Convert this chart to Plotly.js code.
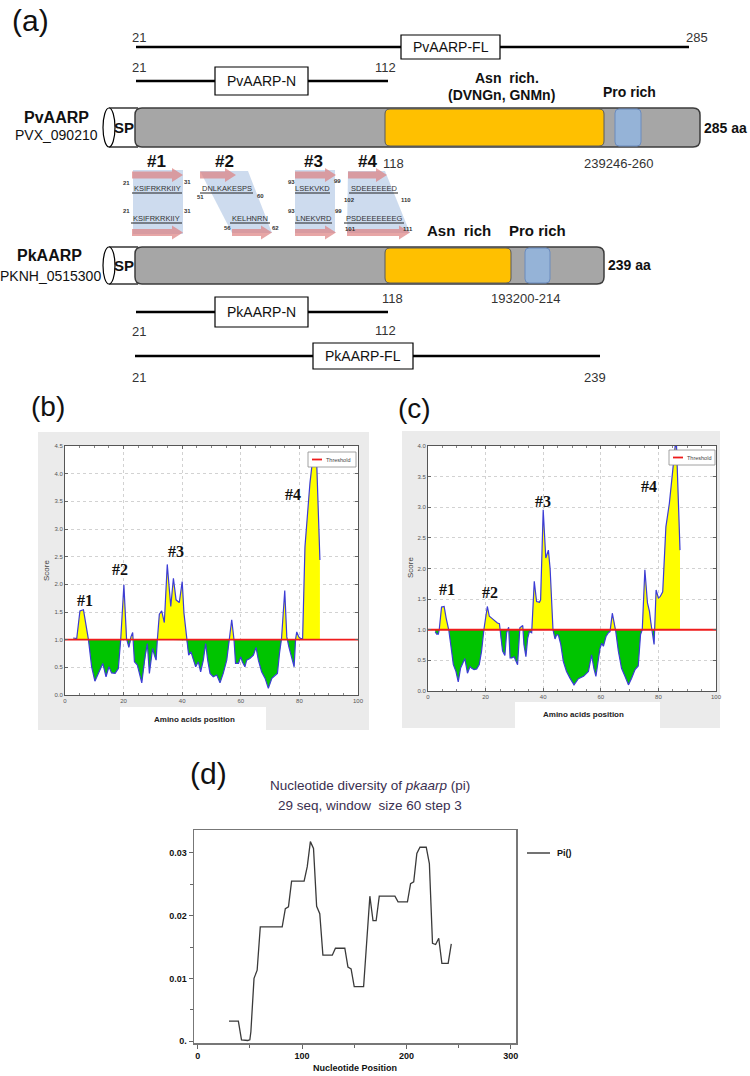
<!DOCTYPE html>
<html><head><meta charset="utf-8">
<script src="https://cdn.plot.ly/plotly-3.0.1.min.js"></script>
<style>html,body{margin:0;padding:0;background:#fff}#fig{width:750px;height:1076px}</style>
</head><body><div id="fig"></div>
<script>
// ================= DATA =================
// (b) PvAARP epitope score vs amino acid position
const pvPos = [2.8,4.0,5.1,6.3,8.0,9.1,10.2,11.4,12.9,14.0,15.0,15.9,17.1,18.2,19.0,20.1,21.0,21.8,22.5,23.1,23.7,24.7,26.2,27.3,28.1,28.8,29.9,30.5,31.1,31.5,32.2,33.0,33.9,34.9,36.1,37.0,37.9,39.0,40.0,40.6,41.5,42.2,43.0,43.8,44.6,45.5,46.3,47.2,48.0,48.7,49.5,50.6,51.8,52.9,54.0,55.2,56.1,56.9,57.7,58.2,59.2,60.0,60.5,61.4,62.0,63.1,64.3,65.2,66.0,67.1,68.3,69.4,70.6,71.7,72.5,73.2,73.9,75.0,75.7,76.4,77.4,78.2,78.7,79.1,79.8,80.4,81.1,81.9,83.6,84.5,85.9,87.0];
const pvScore = [1.03,1.02,1.52,1.54,1.00,0.51,0.25,0.39,0.57,0.33,0.51,0.40,0.39,0.48,0.99,1.99,1.02,0.86,1.05,1.13,0.60,0.54,0.22,0.69,0.93,0.39,0.84,0.72,0.63,0.99,1.46,1.52,1.31,2.36,1.60,2.11,1.72,1.67,2.05,1.48,0.99,0.72,0.78,0.63,0.51,0.60,0.42,0.63,0.93,0.63,0.39,0.33,0.36,0.22,0.39,0.63,0.99,1.36,0.99,0.57,0.57,0.69,0.60,0.51,0.63,0.66,0.72,0.86,0.63,0.42,0.30,0.12,0.30,0.36,0.39,0.75,1.02,1.89,1.05,0.87,0.69,0.51,1.01,1.14,1.05,1.02,1.02,2.68,3.83,4.25,4.20,2.44];
// (c) PkAARP epitope score vs amino acid position
const pkPos = [2.5,3.0,3.6,3.9,4.7,5.6,6.3,7.2,8.2,8.8,9.7,10.5,11.3,12.3,12.8,13.7,14.6,15.2,16.0,16.9,17.8,18.6,19.4,20.6,21.3,22.1,22.9,23.6,24.1,24.8,25.3,25.9,26.7,27.3,28.0,28.5,29.1,29.9,30.6,31.1,31.9,32.9,33.3,34.0,34.6,35.2,36.0,36.9,37.7,38.7,39.1,39.4,40.0,40.9,41.8,42.4,43.0,43.4,44.1,44.7,45.3,46.1,47.0,48.1,49.3,50.7,52.2,54.0,55.7,56.8,57.6,58.3,59.7,60.3,60.9,61.8,62.6,63.2,64.0,64.6,65.2,66.1,67.2,68.4,69.6,70.7,71.9,73.0,73.8,74.4,75.3,76.2,76.9,77.4,78.0,78.5,79.2,80.0,80.6,81.5,82.6,83.8,85.0,85.8,86.3,87.5];
const pkScore = [0.97,0.93,0.93,1.00,1.37,1.38,1.19,1.00,0.65,0.43,0.32,0.15,0.37,0.48,0.53,0.29,0.40,0.37,0.35,0.36,0.43,0.65,1.00,1.38,1.22,1.19,1.16,1.14,1.11,1.10,0.86,0.65,0.58,0.95,1.04,0.54,0.54,0.56,0.48,0.43,1.03,1.07,0.76,0.56,0.86,0.97,0.95,1.79,1.46,1.45,1.49,1.87,2.96,2.17,2.30,2.00,1.43,1.00,0.85,0.92,0.91,0.76,0.48,0.32,0.21,0.10,0.20,0.24,0.32,0.59,0.37,0.24,0.69,0.78,0.73,0.89,0.95,0.97,1.27,1.11,0.97,0.65,0.37,0.24,0.10,0.21,0.35,0.41,0.92,1.00,1.98,1.44,1.30,1.11,0.95,0.76,1.65,1.52,1.54,1.62,2.68,3.06,3.61,3.99,3.99,2.30];
const threshold = 1.0;
// (d) nucleotide diversity (pi) of pkaarp
const ntPos = [30,39,42,48,50,51,54,57,60,81,84,87,90,102,105,108,111,114,117,120,129,132,141,144,147,150,159,162,165,168,171,174,189,192,201,204,207,210,213,219,222,225,228,231,234,240,243];
const ntPi = [0.0032,0.0032,0.0002,0.0001,0.0002,0.0015,0.0100,0.0113,0.0182,0.0182,0.0211,0.0214,0.0255,0.0255,0.0278,0.0318,0.0307,0.0215,0.0203,0.0137,0.0137,0.0148,0.0148,0.0118,0.0115,0.0087,0.0087,0.0167,0.0231,0.0192,0.0192,0.0231,0.0231,0.0222,0.0222,0.0251,0.0254,0.0299,0.0309,0.0309,0.0283,0.0156,0.0154,0.0164,0.0124,0.0124,0.0155];
const ntTicks = [0, 0.01, 0.02, 0.03];
const ntTickText = ['0.', '0.01', '0.02', '0.03'];
// (a) schematic texts
const epitopeIds = ['#1','#2','#3','#4'];
const pvEpiSeq = ['KSIFRKRKIIY','DNLKAKESPS','LSEKVKD','SDEEEEEED'];
const pvEpiStart = ['21','51','93','102'];
const pvEpiEnd = ['31','60','99','110'];
const pkEpiSeq = ['KSIFRKRKIIY','KELHNRN','LNEKVRD','PSDEEEEEEEG'];
const pkEpiStart = ['21','56','93','101'];
const pkEpiEnd = ['31','62','99','111'];

// ================= LAYOUT HELPERS =================
const W = 750, H = 1076;
const fam = 'Liberation Sans, Arial, sans-serif';
const serif = 'Liberation Serif, Times New Roman, serif';
const shapes = [], ann = [];
const P = x => x / W, Q = y => 1 - y / H;

function ln(x0,y0,x1,y1,color,width){shapes.push({type:'line',xref:'x',yref:'y',x0,y0,x1,y1,line:{color,width}});}
function rc(x0,y0,x1,y1,fill,lc,lw){shapes.push({type:'rect',xref:'x',yref:'y',x0,y0,x1,y1,fillcolor:fill,line:{color:lc||fill,width:lw||0}});}
function pth(d,fill,lc,lw){shapes.push({type:'path',xref:'x',yref:'y',path:d,fillcolor:fill,line:{color:lc||'rgba(0,0,0,0)',width:lw||0}});}
function circ(x0,y0,x1,y1,fill,lc,lw){shapes.push({type:'circle',xref:'x',yref:'y',x0,y0,x1,y1,fillcolor:fill,line:{color:lc,width:lw}});}
function tx(x,y,t,size,o){o=o||{};ann.push({xref:'x',yref:'y',x,y,text:t,showarrow:false,
  font:{family:o.family||fam,size,color:o.color||'#111',weight:o.bold?'bold':'normal'},
  xanchor:o.anchor||'center',yanchor:'middle',textangle:o.angle||0});}
function rr(x0,y0,x1,y1,r){
  return `M${x0+r},${y0} L${x1-r},${y0} Q${x1},${y0} ${x1},${y0+r} L${x1},${y1-r} Q${x1},${y1} ${x1-r},${y1} L${x0+r},${y1} Q${x0},${y1} ${x0},${y1-r} L${x0},${y0+r} Q${x0},${y0} ${x0+r},${y0} Z`;
}
function arrow(x0,x1,yc){
  const h=3.5,Hh=7,hl=11,xh=x1-hl;
  pth(`M${x0},${yc-h} L${xh},${yc-h} L${xh},${yc-Hh} L${x1},${yc} L${xh},${yc+Hh} L${xh},${yc+h} L${x0},${yc+h} Z`,'rgba(221,128,128,0.7)');
}
function labelBox(x0,y0,x1,y1,t){
  rc(x0,y0,x1,y1,'#ffffff','#000000',1.2);
  tx((x0+x1)/2,(y0+y1)/2,t,14);
}
function protein(y0,y1,xEnd,orange,blue){
  rc(109,y0,138,y1,'#ffffff');
  ln(109,y0,138,y0,'#000',1.2); ln(109,y1,138,y1,'#000',1.2);
  circ(103,y0,115,y1,'#ffffff','#000',1.2);
  pth(rr(135,y0,xEnd,y1,7),'#a6a6a6','#3c3c3c',1.5);
  pth(rr(orange[0],y0+1,orange[1],y1-1,5),'#ffc000','#5a5a5a',1);
  pth(rr(blue[0],y0+1,blue[1],y1-1,4),'#95b3d7','#6b8bbd',1);
  tx(124,(y0+y1)/2,'SP',15,{bold:true});
}

// ================= PANEL (a) =================
tx(30,20,'(a)',30);
// PvAARP constructs
ln(136,47,689,47,'#000',2.5); labelBox(401,35,500,59,'PvAARP-FL');
tx(139,37,'21',13,{color:'#333'}); tx(697,37,'285',13,{color:'#333'});
ln(136,81,388,81,'#000',2.5); labelBox(215,67,308,95,'PvAARP-N');
tx(139,67,'21',13,{color:'#333'}); tx(385,67,'112',13,{color:'#333'});
tx(507,78,'Asn  rich.',14,{bold:true}); tx(501,95,'(DVNGn, GNMn)',14,{bold:true});
tx(629,92,'Pro rich',14,{bold:true});
protein(108,147,700,[385,604],[615,641]);
tx(56,117,'PvAARP',16,{bold:true}); tx(56,135,'PVX_090210',14);
tx(725,128,'285 aa',14,{bold:true});
tx(393,163,'118',13,{color:'#333'}); tx(618,163,'239246-260',13,{color:'#333'});

// epitope comparison
const epiTopX = [[132,183],[200,236],[295,336],[348,387]];
const epiBotX = [[132,183],[232,272],[295,336],[347,410]];
const epiPanel = [
  [[133,170],[183,170],[183,234],[133,234]],
  [[200,171],[248,171],[272,233],[232,233]],
  [[295,170],[335,170],[335,233],[295,233]],
  [[348,171],[385,171],[410,233],[347,233]]
];
epiPanel.forEach(pg=>pth('M'+pg.map(p=>p.join(',')).join(' L')+' Z','rgba(188,207,232,0.75)'));
epiTopX.forEach(a=>arrow(a[0],a[1],175));
epiBotX.forEach(a=>arrow(a[0],a[1],232.5));
const idX = [156,224,313,367];
epitopeIds.forEach((t,i)=>tx(idX[i],161,t,17,{bold:true}));
const pvSeqX = [[132,182],[200,253],[295,330],[349,398]];
const pkSeqX = [[131,182],[230,270],[295,332],[344,404]];
const pvNumPos = [[[126,183],[187,182]],[[200,197],[260,196]],[[291,182],[337,181]],[[349,200],[406,200]]];
const pkNumPos = [[[126,211],[187,211]],[[227,228],[275,228]],[[291,211],[338,211]],[[350,229],[408,229]]];
pvEpiSeq.forEach((s,i)=>{
  const [a,b]=pvSeqX[i]; tx((a+b)/2,188,s,7.5,{color:'#333'}); ln(a,193,b,193,'#222',1.2);
  tx(pvNumPos[i][0][0],pvNumPos[i][0][1],pvEpiStart[i],6,{bold:true,color:'#333'});
  tx(pvNumPos[i][1][0],pvNumPos[i][1][1],pvEpiEnd[i],6,{bold:true,color:'#333'});
});
pkEpiSeq.forEach((s,i)=>{
  const [a,b]=pkSeqX[i]; tx((a+b)/2,218,s,7.5,{color:'#333'}); ln(a,223,b,223,'#222',1.2);
  tx(pkNumPos[i][0][0],pkNumPos[i][0][1],pkEpiStart[i],6,{bold:true,color:'#333'});
  tx(pkNumPos[i][1][0],pkNumPos[i][1][1],pkEpiEnd[i],6,{bold:true,color:'#333'});
});

// PkAARP
tx(459,230,'Asn  rich',15,{bold:true}); tx(537,230,'Pro rich',15,{bold:true});
protein(247,284,604,[385,511],[525,550]);
tx(49,255,'PkAARP',16,{bold:true}); tx(50,276,'PKNH_0515300',14);
tx(629,265,'239 aa',14,{bold:true});
tx(392,298,'118',13,{color:'#333'}); tx(525,298,'193200-214',13,{color:'#333'});
ln(136,312,388,312,'#000',2.5); labelBox(215,297,308,327,'PkAARP-N');
tx(139,331,'21',13,{color:'#333'}); tx(385,330,'112',13,{color:'#333'});
ln(135,356,600,356,'#000',2.5); labelBox(313,343,413,369,'PkAARP-FL');
tx(139,377,'21',13,{color:'#333'}); tx(595,377,'239',13,{color:'#333'});

// ================= PANELS (b), (c) =================
function paperRect(x0,y0,x1,y1,fill){shapes.push({type:'rect',xref:'paper',yref:'paper',layer:'below',x0:P(x0),x1:P(x1),y0:Q(y1),y1:Q(y0),fillcolor:fill,line:{width:0}});}
paperRect(38,432,369,730,'#ebebeb'); paperRect(65,446,358,695,'#ffffff'); paperRect(120,707,266,730,'#ffffff');
paperRect(402,431,720,728,'#ebebeb'); paperRect(428,446,716,691,'#ffffff'); paperRect(515,702,660,728,'#ffffff');

function splitAt(xs,ys,t){
  const X=[],Y=[];
  for(let i=0;i<xs.length;i++){
    if(i>0){const a=ys[i-1]-t,b=ys[i]-t; if(a*b<0){const f=a/(a-b); X.push(xs[i-1]+f*(xs[i]-xs[i-1])); Y.push(t);}}
    X.push(xs[i]); Y.push(ys[i]);
  }
  return {X,Y};
}
const traces = [{x:[0],y:[0],xaxis:'x',yaxis:'y',mode:'markers',marker:{opacity:0},hoverinfo:'skip',showlegend:false}];
function scoreTraces(xs,ys,xa,ya){
  const s=splitAt(xs,ys,threshold);
  const base={x:s.X,y:s.X.map(()=>threshold),xaxis:xa,yaxis:ya,mode:'lines',line:{width:0},hoverinfo:'skip',showlegend:false};
  traces.push(base);
  traces.push({x:s.X,y:s.Y.map(v=>Math.max(v,threshold)),xaxis:xa,yaxis:ya,mode:'lines',line:{width:0},fill:'tonexty',fillcolor:'#ffff00',showlegend:false,hoverinfo:'skip'});
  traces.push(Object.assign({},base));
  traces.push({x:s.X,y:s.Y.map(v=>Math.min(v,threshold)),xaxis:xa,yaxis:ya,mode:'lines',line:{width:0},fill:'tonexty',fillcolor:'#00c400',showlegend:false,hoverinfo:'skip'});
  traces.push({x:xs,y:ys,xaxis:xa,yaxis:ya,mode:'lines',line:{color:'#3c3cd6',width:1.2},showlegend:false});
  traces.push({x:[0,100],y:[threshold,threshold],xaxis:xa,yaxis:ya,mode:'lines',line:{color:'#ee1c1c',width:1.8},name:'Threshold',showlegend:false});
}
scoreTraces(pvPos,pvScore,'x2','y2');
scoreTraces(pkPos,pkScore,'x3','y3');
traces.push({x:ntPos,y:ntPi,xaxis:'x4',yaxis:'y4',mode:'lines',line:{color:'#3a3a3a',width:1.3},name:'Pi()',showlegend:false});

function scoreX(d,anchor){return {domain:d,anchor,range:[0,100],tickvals:[0,20,40,60,80,100],tickfont:{size:6,color:'#555',family:fam},
  showgrid:true,gridcolor:'#d2d2d2',griddash:'dot',gridwidth:1,showline:true,linecolor:'#555',linewidth:1,mirror:'ticks',
  ticks:'inside',ticklen:3,tickcolor:'#666',minor:{dtick:5,ticklen:2,ticks:'inside',tickcolor:'#888'},zeroline:false,fixedrange:true};}
function scoreY(d,anchor,ymax){return {domain:d,anchor,range:[0,ymax],dtick:0.5,tickformat:'.1f',tickfont:{size:6,color:'#555',family:fam},
  showgrid:true,gridcolor:'#d2d2d2',griddash:'dot',gridwidth:1,showline:true,linecolor:'#555',linewidth:1,mirror:'ticks',
  ticks:'inside',ticklen:3,tickcolor:'#666',zeroline:false,fixedrange:true};}

// legends "Threshold"
function thrLegend(x0,y0,x1,y1){
  rc(x0,y0,x1,y1,'#ffffff','#8a8a8a',0.8);
  ln(x0+4,(y0+y1)/2,x0+14,(y0+y1)/2,'#ee1c1c',1.8);
  tx(x0+16,(y0+y1)/2,'Threshold',5.5,{anchor:'left',color:'#444'});
}
thrLegend(308,452,356,467);
thrLegend(669,450,715,465);
tx(48,406,'(b)',28); tx(414,408,'(c)',28);
tx(46,571,'Score',8,{angle:-90,color:'#444'}); tx(410,568,'Score',8,{angle:-90,color:'#444'});
tx(194,719,'Amino acids position',8,{bold:true,color:'#222'}); tx(583,714,'Amino acids position',8,{bold:true,color:'#222'});
[[85,600,'#1'],[120,569,'#2'],[176,551,'#3'],[293,494,'#4'],[447,589,'#1'],[490,592,'#2'],[543,501,'#3'],[649,486,'#4']]
  .forEach(a=>tx(a[0],a[1],a[2],16,{bold:true,family:serif}));

// ================= PANEL (d) =================
tx(208,773,'(d)',30);
tx(370,785,'Nucleotide diversity of <i>pkaarp</i> (pi)',13.5,{color:'#3a2f50'});
tx(370,805,'29 seq, window  size 60 step 3',13.5,{color:'#3a2f50'});
ln(527,853,550,853,'#444',1.5); tx(555,853,'Pi()',9,{bold:true,anchor:'left'});
tx(355,1068,'Nucleotide Position',9,{bold:true});

const layout = {
  width:W,height:H,margin:{l:0,r:0,t:0,b:0},paper_bgcolor:'#ffffff',plot_bgcolor:'rgba(0,0,0,0)',showlegend:false,
  xaxis:{domain:[0,1],range:[0,W],visible:false,fixedrange:true},
  yaxis:{domain:[0,1],range:[H,0],visible:false,fixedrange:true},
  xaxis2:scoreX([P(65),P(358)],'y2'), yaxis2:scoreY([Q(695),Q(446)],'x2',4.5),
  xaxis3:scoreX([P(428),P(716)],'y3'), yaxis3:scoreY([Q(691),Q(446)],'x3',4.0),
  xaxis4:{domain:[P(194),P(516)],anchor:'y4',range:[-3.5,305],tickvals:[0,100,200,300],ticks:'outside',ticklen:4,tickcolor:'#666',
    minor:{dtick:50,ticklen:3,ticks:'outside',tickcolor:'#666'},showline:true,mirror:true,linecolor:'#777',linewidth:1.5,
    showgrid:false,zeroline:false,tickfont:{size:9,color:'#111',family:fam,weight:'bold'},fixedrange:true},
  yaxis4:{domain:[Q(1043),Q(830)],anchor:'x4',range:[-0.0003,0.03365],tickvals:ntTicks,ticktext:ntTickText,ticks:'outside',ticklen:4,tickcolor:'#666',
    minor:{dtick:0.005,ticklen:3,ticks:'outside',tickcolor:'#666'},showline:true,mirror:true,linecolor:'#777',linewidth:1.5,
    showgrid:false,zeroline:false,tickfont:{size:9,color:'#111',family:fam,weight:'bold'},fixedrange:true},
  shapes, annotations:ann
};
Plotly.newPlot('fig',traces,layout,{displayModeBar:false,staticPlot:true});
</script></body></html>
